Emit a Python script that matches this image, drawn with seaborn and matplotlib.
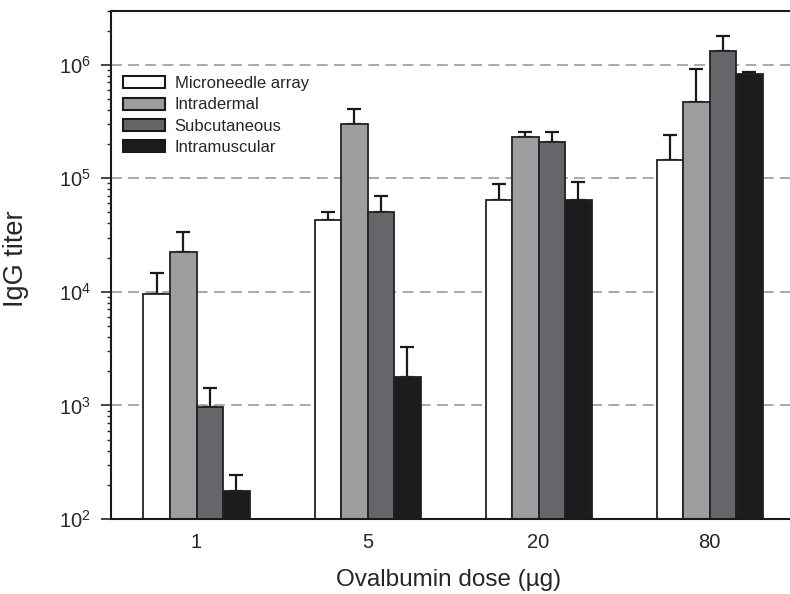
import matplotlib
matplotlib.use("Agg")
import matplotlib.pyplot as plt
import seaborn as sns
import pandas as pd
import numpy as np

# datos
doses = ["1", "5", "20", "80"]
routes = ["Microneedle array", "Intradermal", "Subcutaneous", "Intramuscular"]
microneedle = [9.5e3, 4.25e4, 6.5e4, 1.45e5]
intradermal = [2.25e4, 3.0e5, 2.3e5, 4.7e5]
subcutaneous = [965, 5.0e4, 2.07e5, 1.33e6]
intramuscular = [178, 1.77e3, 6.45e4, 8.25e5]
# extremo superior de las barras de error
microneedle_hi = [1.46e4, 5.05e4, 8.9e4, 2.4e5]
intradermal_hi = [3.35e4, 4.1e5, 2.57e5, 9.1e5]
subcutaneous_hi = [1.43e3, 7.0e4, 2.57e5, 1.8e6]
intramuscular_hi = [244, 3.3e3, 9.2e4, 8.6e5]

colores = ["#ffffff", "#9d9ea2", "#64656a", "#1c1b1e"]

sns.set_style("white")
plt.rcParams["font.family"] = ["Liberation Sans", "DejaVu Sans"]
plt.rcParams["mathtext.default"] = "regular"

valores = [microneedle, intradermal, subcutaneous, intramuscular]
altos = [microneedle_hi, intradermal_hi, subcutaneous_hi, intramuscular_hi]
filas = []
for r, vals, his in zip(routes, valores, altos):
    for d, v, h in zip(doses, vals, his):
        filas.append({"dose": d, "route": r, "titer": v, "hi": h})
df = pd.DataFrame(filas)

fig = plt.figure(figsize=(7.9, 5.94), dpi=100)
ax = fig.add_axes([0.1405, 0.1263, 0.866, 0.856])
ax.set_yscale("log")

sns.barplot(data=df, x="dose", y="titer", hue="route", order=doses,
            hue_order=routes, palette=colores, width=0.62, gap=0,
            edgecolor="#222222", linewidth=1.3, errorbar=None, ax=ax,
            zorder=2)

# barras de error (solo hacia arriba)
for cont, r in zip(ax.containers, routes):
    sub = df[df["route"] == r].set_index("dose").loc[doses]
    for bar, v, h in zip(cont.patches, sub["titer"], sub["hi"]):
        xc = bar.get_x() + bar.get_width() / 2
        ax.errorbar(xc, v, yerr=[[0], [h - v]], fmt="none", ecolor="#1a1a1a",
                    elinewidth=1.6, capsize=4.7, capthick=1.6, zorder=1)

ax.set_ylim(1e2, 3e6)
ax.set_xlim(-0.5, 3.5)
ax.set_yticks([1e2, 1e3, 1e4, 1e5, 1e6])
ax.yaxis.grid(True, which="major", color="#a3a3a3", linewidth=1.3,
              linestyle=(0, (6, 3.5)))
ax.xaxis.grid(False)
ax.set_axisbelow(True)

for s in ["left", "bottom", "top"]:
    ax.spines[s].set_linewidth(1.5)
    ax.spines[s].set_color("#1a1a1a")
ax.spines["right"].set_visible(False)

ax.tick_params(axis="y", which="major", direction="out", length=7.5, width=1.2,
               labelsize=14.5, left=True, pad=7)
ax.tick_params(axis="y", which="minor", direction="out", length=3, width=1.0,
               left=True)
ax.tick_params(axis="x", length=0, labelsize=14.5, pad=10)

ax.set_xlabel("Ovalbumin dose (\u00b5g)", fontsize=17.5)
ax.set_ylabel("IgG titer", fontsize=19.5)
ax.xaxis.set_label_coords(0.493, -0.098)
ax.yaxis.set_label_coords(-0.12, 0.511)

leg = ax.legend(loc="upper left", bbox_to_anchor=(0.0175, 0.871), frameon=False,
                fontsize=12, handlelength=2.5, handleheight=0.75,
                handletextpad=0.6, labelspacing=0.38, borderpad=0,
                borderaxespad=0)
for p in leg.get_patches():
    p.set_edgecolor("#1a1a1a")
    p.set_linewidth(1.5)

fig.savefig("out.png", dpi=100)
